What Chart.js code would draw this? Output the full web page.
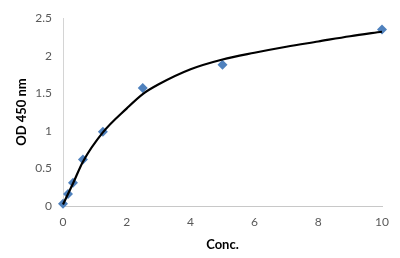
<!DOCTYPE html>
<html>
<head>
<meta charset="utf-8">
<script src="https://cdn.jsdelivr.net/npm/chart.js@4"></script>
<style>
  html, body { margin: 0; padding: 0; background: #fff; }
  #wrap { width: 400px; height: 258px; }
</style>
</head>
<body>
<div id="wrap"><canvas id="odChart" width="400" height="258"></canvas></div>
<script>
// measured points
const concValues = [0, 0.156, 0.3125, 0.625, 1.25, 2.5, 5, 10];
const odValues = [0.03, 0.16, 0.31, 0.62, 0.99, 1.57, 1.88, 2.35];

// fitted curve
const fitConc = [0, 0.156, 0.3125, 0.625, 1.25, 2, 2.5, 3, 4, 5, 6, 7, 8, 9, 10];
const fitOd = [0.02, 0.16, 0.30, 0.59, 0.98, 1.30, 1.49, 1.62, 1.82, 1.95, 2.04, 2.12, 2.19, 2.26, 2.32];

const xTicks = [0, 2, 4, 6, 8, 10];
const yTicks = [0, 0.5, 1, 1.5, 2, 2.5];

const tickFont = { family: 'Lato', size: 12 };
const titleFont = { family: 'Lato', size: 13, weight: 'bold' };

const ctx = document.getElementById('odChart').getContext('2d');
new Chart(ctx, {
  type: 'scatter',
  data: {
    datasets: [
      {
        label: 'Fit',
        data: fitConc.map((x, i) => ({ x: x, y: fitOd[i] })),
        showLine: true,
        borderColor: '#000000',
        borderWidth: 2.2,
        cubicInterpolationMode: 'monotone',
        pointRadius: 0,
        clip: false,
        order: 0
      },
      {
        label: 'OD',
        data: concValues.map((x, i) => ({ x: x, y: odValues[i] })),
        pointStyle: 'rectRot',
        pointRadius: 5,
        backgroundColor: '#4F81BD',
        borderColor: '#4F81BD',
        borderWidth: 0,
        clip: false,
        order: 1
      }
    ]
  },
  options: {
    responsive: false,
    animation: false,
    layout: { padding: { top: 11, right: 18, left: 0, bottom: 0 } },
    plugins: {
      legend: { display: false },
      tooltip: { enabled: false }
    },
    scales: {
      x: {
        type: 'linear',
        min: 0,
        max: 10,
        afterBuildTicks: s => { s.ticks = xTicks.map(v => ({ value: v })); },
        afterFit: s => { s.height = 52; },
        grid: { display: false, drawTicks: false },
        border: { color: '#c8c8c8', width: 1 },
        ticks: { color: '#595959', font: tickFont, padding: 9, maxRotation: 0, callback: v => String(v) },
        title: { display: true, text: 'Conc.', color: '#000', font: titleFont, padding: { top: 0, bottom: 5 } }
      },
      y: {
        type: 'linear',
        min: 0,
        max: 2.5,
        afterBuildTicks: s => { s.ticks = yTicks.map(v => ({ value: v })); },
        afterFit: s => { s.width = 63; },
        grid: { display: false, drawTicks: false },
        border: { color: '#d4d4d4', width: 1 },
        ticks: { color: '#595959', font: tickFont, padding: 11, callback: v => String(v) },
        title: { display: true, text: 'OD 450 nm', color: '#000', font: titleFont, padding: { top: 14, bottom: 0 } }
      }
    }
  }
});
</script>
</body>
</html>
